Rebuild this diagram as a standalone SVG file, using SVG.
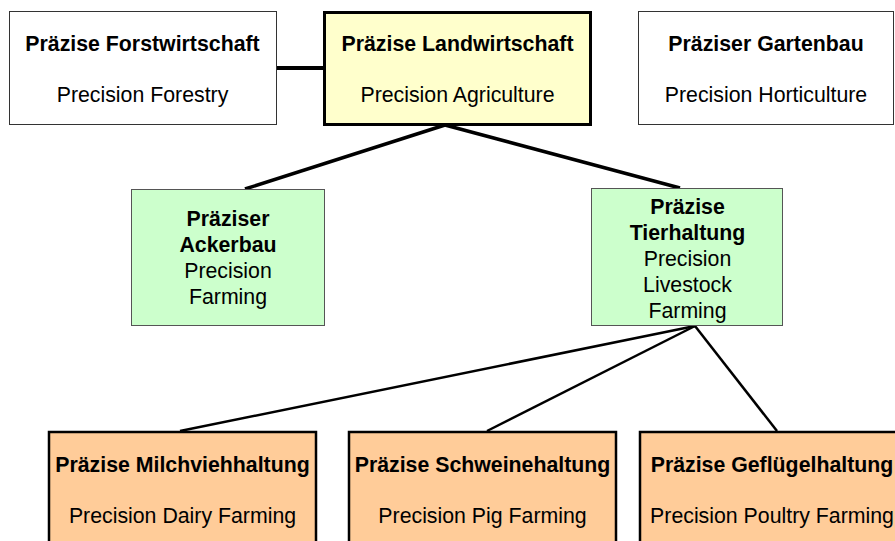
<svg xmlns="http://www.w3.org/2000/svg" width="895" height="541" viewBox="0 0 895 541">
<style>
text{font-family:"Liberation Sans",Arial,sans-serif;font-size:21.3px;fill:#000;text-anchor:middle}
.b{font-weight:bold}
.thin{stroke:#333;stroke-width:1}
.white{fill:#fff}
.yellow{fill:#ffffcc;stroke:#000;stroke-width:3}
.green{fill:#ccffcc;stroke:#555;stroke-width:1}
.orange{fill:#ffcc99;stroke:#000;stroke-width:2.5}
.conn{stroke:#000;fill:none}
</style>
<rect width="895" height="541" fill="#fff"/>
<g id="connectors">
<line class="conn" x1="276" y1="68" x2="323" y2="68" stroke-width="4"/>
<line class="conn" x1="445" y1="125" x2="245" y2="189" stroke-width="3.5"/>
<line class="conn" x1="445" y1="125" x2="680" y2="188" stroke-width="3.5"/>
<line class="conn" x1="695" y1="326" x2="180" y2="431" stroke-width="2.5"/>
<line class="conn" x1="695" y1="326" x2="487" y2="431" stroke-width="2.5"/>
<line class="conn" x1="695" y1="326" x2="777" y2="431" stroke-width="2.5"/>
</g>
<g id="forst">
<rect class="white thin" x="9.5" y="11.5" width="267" height="113"/>
<text class="b" x="142.5" y="51">Präzise Forstwirtschaft</text>
<text x="142.5" y="102">Precision Forestry</text>
</g>
<g id="land">
<rect class="yellow" x="324.5" y="12.5" width="266" height="112"/>
<text class="b" x="457.5" y="51">Präzise Landwirtschaft</text>
<text x="457.5" y="102">Precision Agriculture</text>
</g>
<g id="garten">
<rect class="white thin" x="638.5" y="11.5" width="255" height="113"/>
<text class="b" x="766" y="51">Präziser Gartenbau</text>
<text x="766" y="102">Precision Horticulture</text>
</g>
<g id="ackerbau">
<rect class="green" x="131.5" y="189.5" width="193" height="136"/>
<text class="b" x="228" y="226">Präziser</text>
<text class="b" x="228" y="252">Ackerbau</text>
<text x="228" y="278">Precision</text>
<text x="228" y="304">Farming</text>
</g>
<g id="tierhaltung">
<rect class="green" x="591.5" y="188.5" width="191" height="137"/>
<text class="b" x="687.5" y="214">Präzise</text>
<text class="b" x="687.5" y="240">Tierhaltung</text>
<text x="687.5" y="266">Precision</text>
<text x="687.5" y="292">Livestock</text>
<text x="687.5" y="318">Farming</text>
</g>
<g id="milch">
<rect class="orange" x="49" y="432" width="267" height="120"/>
<text class="b" x="182.5" y="472">Präzise Milchviehhaltung</text>
<text x="182.5" y="523">Precision Dairy Farming</text>
</g>
<g id="schwein">
<rect class="orange" x="349" y="432" width="267" height="120"/>
<text class="b" x="482.5" y="472">Präzise Schweinehaltung</text>
<text x="482.5" y="523">Precision Pig Farming</text>
</g>
<g id="gefluegel">
<rect class="orange" x="640" y="432" width="267" height="120"/>
<text class="b" x="772" y="472">Präzise Geflügelhaltung</text>
<text x="772" y="523">Precision Poultry Farming</text>
</g>
</svg>
